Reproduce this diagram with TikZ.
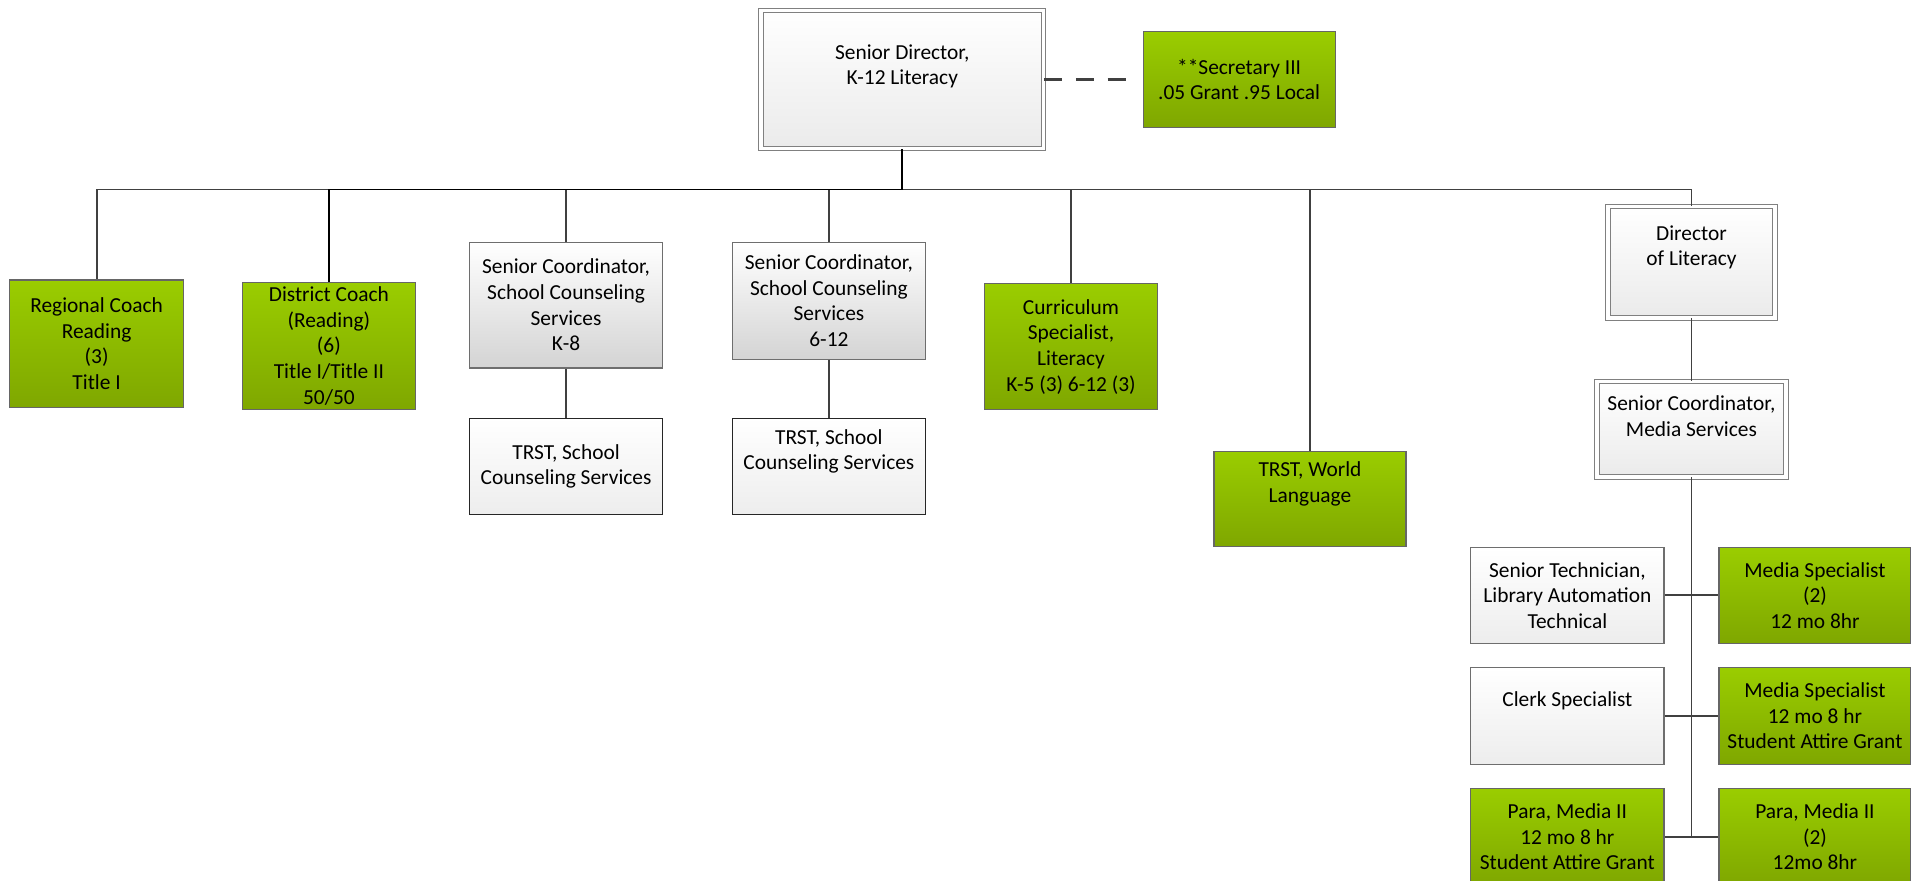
\documentclass[tikz,border=0pt]{standalone}
\usepackage{fontspec}
\setmainfont{Carlito}
\usepackage{tikz}

\definecolor{leaftop}{HTML}{9ACD00}
\definecolor{leafbottom}{HTML}{7FA700}
\definecolor{boxline}{HTML}{6E6E6E}

\begin{document}
\begin{tikzpicture}[x=1pt,y=-1pt]
                \tikzset{role/.style = {shape=rectangle,draw=boxline,line width=0.9pt,align=center,inner sep=2pt,
                        font=\fontsize{17.5}{21}\selectfont}}
                \tikzset{boxsize/.style 2 args = {minimum width=#1,minimum height=#2}}
                \tikzset{grant/.style = {role,draw=black!60,top color=leaftop,bottom color=leafbottom}}
                \tikzset{plain/.style = {role,top color=white,bottom color=black!7}}
                \tikzset{coord/.style = {role,top color=white,bottom color=black!17}}
                \tikzset{staff/.style = {plain,draw=black!85}}
                \tikzset{lead/.style = {role,draw=black!50,line width=0.8pt,double=white,double distance=3pt,
                        top color=white,bottom color=black!8}}
                \tikzset{edge/.style = {draw=black!75,line width=1.5pt}}
                \useasboundingbox (0,0) rectangle (1568,720);
                % vertices
                \node[lead, boxsize={231}{113}] (sd) at (738,65) {Senior Director,\\K-12 Literacy\\[-3pt]\strut};
                \node[grant, boxsize={157}{78}] (sec) at (1013.5,65) {**Secretary III\\.05 Grant .95 Local};
                \coordinate (bus) at (0,155);

                \node[grant, boxsize={142}{104}] (regional) at (79,281) {Regional Coach\\Reading\\(3)\\Title I};
                \node[grant, boxsize={142}{104}] (district) at (269,283) {District Coach\\(Reading)\\(6)\\Title I/Title II\\50/50};
                \node[coord, boxsize={158}{103}] (sck8) at (463,249.5) {Senior Coordinator,\\School Counseling\\Services\\K-8};
                \node[staff, boxsize={158}{79}] (trstk8) at (463,381.5) {TRST, School\\Counseling Services};
                \node[coord, boxsize={158}{96}] (sc612) at (678,246) {Senior Coordinator,\\School Counseling\\Services\\6-12};
                \node[staff, boxsize={158}{79}] (trst612) at (678,381.5) {TRST, School\\Counseling Services\\\strut};
                \node[grant, boxsize={142}{103}] (curric) at (876,283.5) {Curriculum\\Specialist,\\Literacy\\K-5 (3) 6-12 (3)};
                \node[grant, boxsize={157}{78}] (world) at (1071.5,408) {TRST, World\\Language\\\strut};

                \node[lead, boxsize={137}{91}] (dol) at (1383.5,214.5) {Director\\of Literacy\\\strut};
                \node[lead, boxsize={155}{78}] (smedia) at (1383.5,351) {Senior Coordinator,\\Media Services\\[-6pt]\strut};
                \node[plain, boxsize={158}{78}] (tech) at (1282,487) {Senior Technician,\\Library Automation\\Technical};
                \node[grant, boxsize={157}{78}] (mspec) at (1484.5,487) {Media Specialist\\(2)\\12 mo 8hr};
                \node[plain, boxsize={158}{79}] (clerk) at (1282,585.5) {Clerk Specialist\\\strut};
                \node[grant, boxsize={157}{79}] (mattire) at (1484.5,585.5) {Media Specialist\\12 mo 8 hr\\Student Attire Grant};
                \node[grant, boxsize={158}{79}] (pattire) at (1282,684.5) {Para, Media II\\12 mo 8 hr\\Student Attire Grant};
                \node[grant, boxsize={157}{79}] (para) at (1484.5,684.5) {Para, Media II\\(2)\\12mo 8hr};
                %edges
                \draw[edge, line width=2pt, dash pattern=on 15pt off 11pt, shorten >=9pt] (sd) to (sec);
                \foreach \unit in {regional,sck8,sc612,curric,world,dol}
                        \draw[edge] (sd.south) -- (sd.south |- bus) -| (\unit.north);
                \draw[edge, draw=black] (sd.south) -- (sd.south |- bus) -| (district.north);
                \draw[edge] (sck8) to (trstk8);
                \draw[edge] (sc612) to (trst612);
                \draw[edge] (dol) to (smedia);
                \draw[edge] (smedia.south) -- (smedia.south |- para.west);
                \draw[edge] (tech) to (mspec);
                \draw[edge] (clerk) to (mattire);
                \draw[edge] (pattire) to (para);
\end{tikzpicture}
\end{document}
